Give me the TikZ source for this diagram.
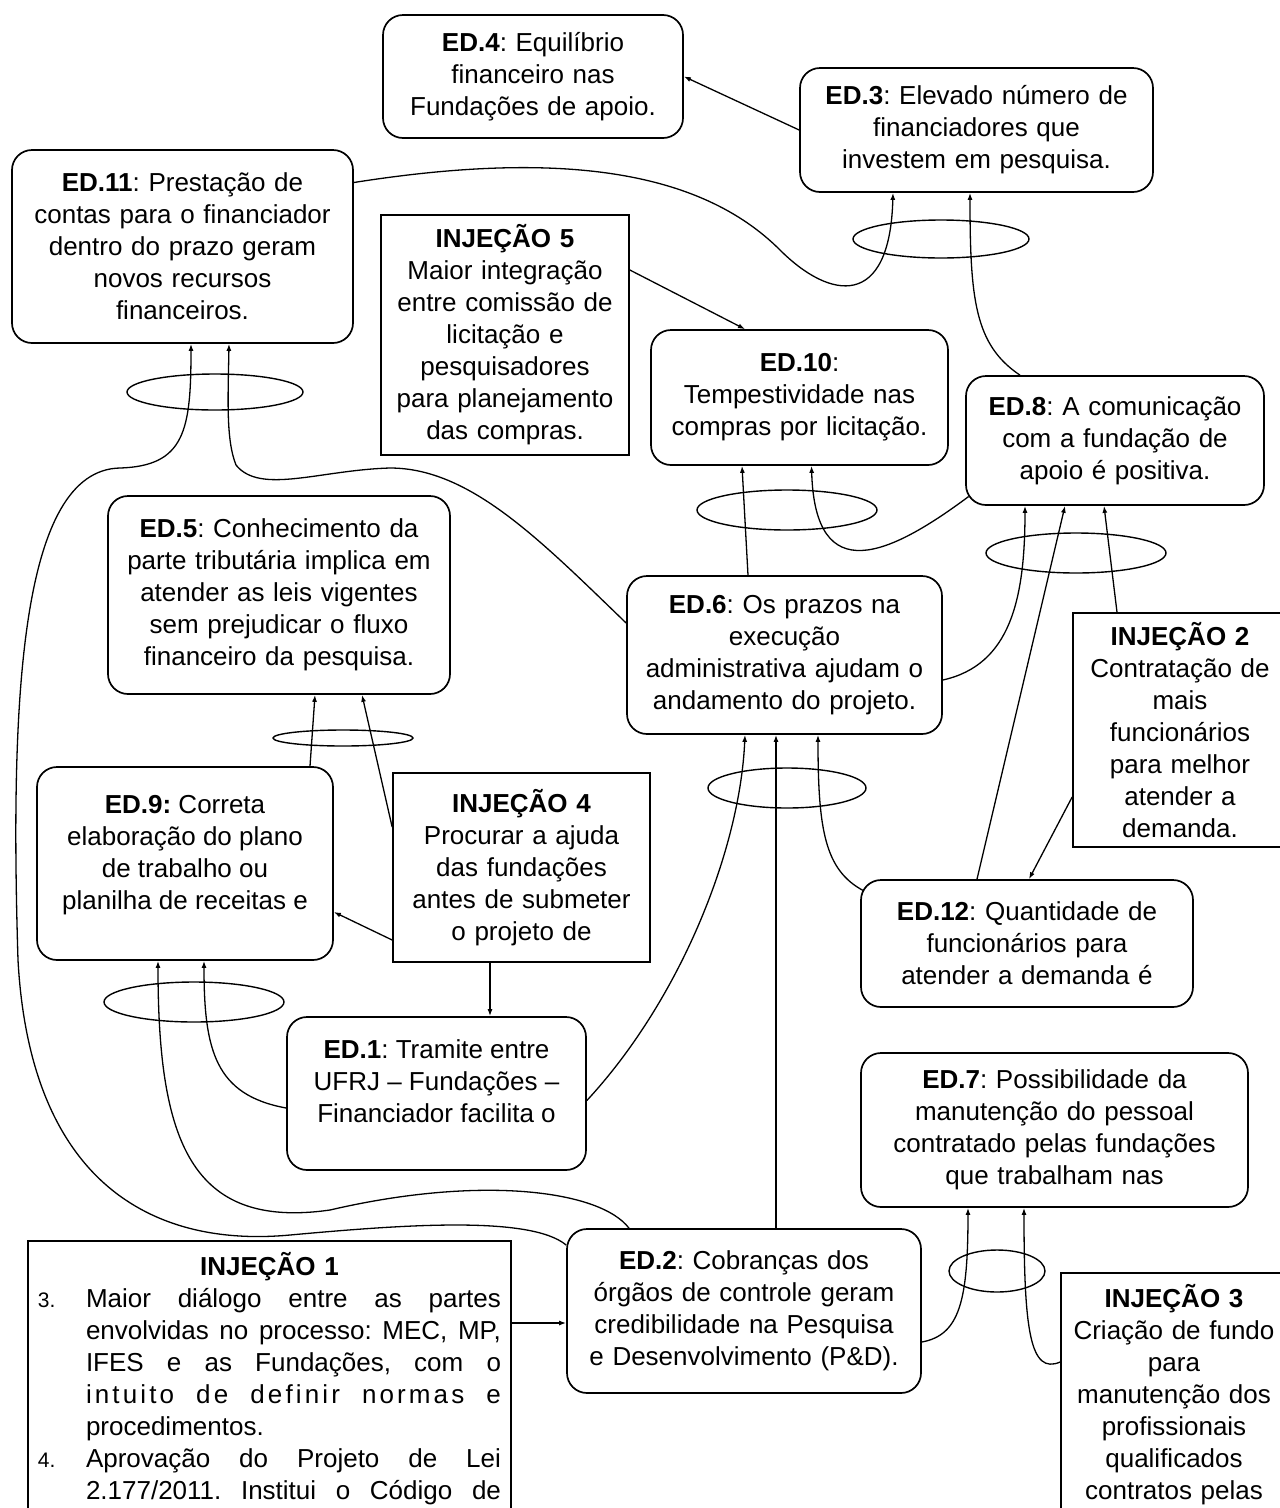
\documentclass[tikz,border=0pt]{standalone}
\usepackage{fontspec}
\setmainfont{Liberation Sans}
\usepackage{tikz}
\usetikzlibrary{arrows.meta,shapes.geometric}
\newcommand{\diagfont}{\fontsize{26}{32}\selectfont\frenchspacing}

\begin{document}
\begin{tikzpicture}[
    x=1pt,y=-1pt,
    edbox/.style={draw,rounded corners=20pt,line width=1.7pt,align=center,font=\diagfont,inner xsep=6pt,inner ysep=4pt},
    injbox/.style={draw,line width=1.7pt,align=center,font=\diagfont,inner xsep=6pt,inner ysep=4pt},
    andring/.style={draw,ellipse,line width=1.4pt,inner sep=0pt},
    link/.style={-{Latex[length=7pt,width=5pt]},line width=1.3pt}
  ]
    \useasboundingbox (0,0) rectangle (1280,1508);
    \clip (0,0) rectangle (1280,1508);

    % boxes
    \node[edbox,minimum width=300,minimum height=123,text width=288] (ed4) at (533,76.5) {\textbf{ED.4}: Equilíbrio\\financeiro nas\\Fundações de apoio.};
    \node[edbox,minimum width=353,minimum height=124,text width=341] (ed3) at (976.5,130) {\textbf{ED.3}: Elevado número de\\financiadores que\\investem em pesquisa.};
    \node[edbox,minimum width=341,minimum height=193,text width=329] (ed11) at (182.5,246.5) {\textbf{ED.11}: Prestação de\\contas para o financiador\\dentro do prazo geram\\novos recursos\\financeiros.};
    \node[injbox,minimum width=248,minimum height=240,text width=236] (inj5) at (505,335) {\textbf{INJEÇÃO 5}\\Maior integração\\entre comissão de\\licitação e\\pesquisadores\\para planejamento\\das compras.};
    \node[edbox,minimum width=297,minimum height=135,text width=285] (ed10) at (799.5,397.5) {\textbf{ED.10}:\\Tempestividade nas\\compras por licitação.};
    \node[edbox,minimum width=298,minimum height=129,text width=286] (ed8) at (1115,440.5) {\textbf{ED.8}: A comunicação\\com a fundação de\\apoio é positiva.};
    \node[edbox,minimum width=342,minimum height=198,text width=330] (ed5) at (279,595) {\textbf{ED.5}: Conhecimento da\\parte tributária implica em\\atender as leis vigentes\\sem prejudicar o fluxo\\financeiro da pesquisa.};
    \node[edbox,minimum width=315,minimum height=158,text width=303] (ed6) at (784.5,655) {\textbf{ED.6}: Os prazos na\\execução\\administrativa ajudam o\\andamento do projeto.};
    \node[injbox,minimum width=214,minimum height=234,text width=202] (inj2) at (1180,730) {\textbf{INJEÇÃO 2}\\Contratação de\\mais\\funcionários\\para melhor\\atender a\\demanda.};
    \node[edbox,minimum width=296,minimum height=193] (ed9) at (185,863.5) {\parbox[c][136pt][t]{284pt}{\centering\textbf{ED.9:} Correta\\elaboração do plano\\de trabalho ou\\planilha de receitas e}};
    \node[injbox,minimum width=257,minimum height=189,text width=245] (inj4) at (521.5,867.5) {\textbf{INJEÇÃO 4}\\Procurar a ajuda\\das fundações\\antes de submeter\\o projeto de};
    \node[edbox,minimum width=332,minimum height=127,text width=320] (ed12) at (1027,943.5) {\textbf{ED.12}: Quantidade de\\funcionários para\\atender a demanda é};
    \node[edbox,minimum width=299,minimum height=153] (ed1) at (436.5,1093.5) {\parbox[c][108pt][t]{287pt}{\centering\textbf{ED.1}: Tramite entre\\UFRJ – Fundações –\\Financiador facilita o}};
    \node[edbox,minimum width=387,minimum height=154,text width=375] (ed7) at (1054.5,1130) {\textbf{ED.7}: Possibilidade da\\manutenção do pessoal\\contratado pelas fundações\\que trabalham nas};
    \node[edbox,minimum width=354,minimum height=164,text width=342] (ed2) at (744,1311) {\textbf{ED.2}: Cobranças dos\\órgãos de controle geram\\credibilidade na Pesquisa\\e Desenvolvimento (P\&D).};
    \node[injbox,anchor=north,text width=465,inner xsep=9pt,inner ysep=11pt] (inj1) at (269.5,1240) {\textbf{INJEÇÃO 1}\\
      \makebox[48pt][l]{\fontsize{21}{32}\selectfont 3.}\makebox[415pt][s]{Maior\hfill diálogo\hfill entre\hfill as\hfill partes}\\
      \makebox[48pt]{}\makebox[415pt][s]{envolvidas\hfill no\hfill processo:\hfill MEC,\hfill MP,}\\
      \makebox[48pt]{}\makebox[415pt][s]{IFES\hfill e\hfill as\hfill Fundações,\hfill com\hfill o}\\
      \makebox[48pt]{}\makebox[415pt][s]{\addfontfeature{LetterSpace=12}intuito\hfill de\hfill definir\hfill normas\hfill e}\\
      \makebox[48pt]{}\makebox[415pt][l]{procedimentos.}\\
      \makebox[48pt][l]{\fontsize{21}{32}\selectfont 4.}\makebox[415pt][s]{Aprovação\hfill do\hfill Projeto\hfill de\hfill Lei}\\
      \makebox[48pt]{}\makebox[415pt][s]{2.177/2011.\hfill Institui\hfill o\hfill Código\hfill de}\par\vspace*{30pt}};
    \node[injbox,anchor=north,minimum width=226,text width=214,inner ysep=11pt] (inj3) at (1174,1272) {\textbf{INJEÇÃO 3}\\Criação de fundo\\para\\manutenção dos\\profissionais\\qualificados\\contratos pelas\par\vspace*{30pt}};

    % and-rings
    \node[andring,minimum width=176,minimum height=38] (and3) at (941,239) {};
    \node[andring,minimum width=176,minimum height=36] (and11) at (215,392) {};
    \node[andring,minimum width=180,minimum height=40] (and10) at (787,510) {};
    \node[andring,minimum width=180,minimum height=40] (and8) at (1076,553) {};
    \node[andring,minimum width=140,minimum height=16] (and5) at (343,738) {};
    \node[andring,minimum width=158,minimum height=40] (and6) at (787,788) {};
    \node[andring,minimum width=180,minimum height=40] (and9) at (194,1002) {};
    \node[andring,minimum width=96,minimum height=42] (and7) at (997,1271) {};

    % links
    \draw[link] (ed3.west) -- (ed4.east);
    \draw[link] ([yshift=64pt]ed11.east) .. controls (560,150) and (700,170) .. (780,250) .. controls (830,300) and (890,310) .. ([xshift=-83.5pt]ed3.south);
    \draw[link] ([xshift=-95pt]ed8.north) .. controls (975,345) and (970,300) .. ([xshift=-6.5pt]ed3.south);
    \draw[link] ([yshift=65pt]inj5.east) -- ([xshift=-54.5pt]ed10.north);
    \draw[link] ([xshift=-36.5pt]ed6.north) -- ([xshift=-57.5pt]ed10.south);
    \draw[link] ([xshift=3.5pt,yshift=-56pt]ed8.west) .. controls (890,555) and (815,590) .. ([xshift=12pt]ed10.south);
    \draw[link] ([yshift=-25pt]ed6.east) .. controls (1010,665) and (1025,600) .. ([xshift=-90pt]ed8.south);
    \draw[link] ([xshift=-50pt]ed12.north) -- ([xshift=-50pt]ed8.south);
    \draw[link] ([xshift=-63pt]inj2.north) -- ([xshift=-11pt]ed8.south);
    \draw[link] ([yshift=-67pt]inj2.west) -- ([xshift=2pt]ed12.north);
    \draw[link] ([xshift=3pt,yshift=53pt]ed12.west) .. controls (825,870) and (818,830) .. ([xshift=33.5pt]ed6.south);
    \draw[link] ([xshift=32pt]ed2.north) -- ([xshift=-8.5pt]ed6.south);
    \draw[link] ([yshift=-7pt]ed1.east) .. controls (680,1000) and (740,850) .. ([xshift=-39.5pt]ed6.south);
    \draw[link] ([xshift=-31.5pt]inj4.south) -- ([xshift=53.5pt]ed1.north);
    \draw[link] ([yshift=-72.5pt]inj4.west) -- ([yshift=-48.5pt]ed9.east);
    \draw[link] ([yshift=40.5pt]inj4.west) -- ([xshift=83pt]ed5.south);
    \draw[link] ([xshift=125pt]ed9.north) -- ([xshift=36pt]ed5.south);
    \draw[link] ([yshift=-14.5pt]ed1.west) .. controls (215,1095) and (204,1050) .. ([xshift=19pt]ed9.south);
    \draw[link] ([xshift=-115pt]ed2.north) .. controls (600,1190) and (480,1175) .. (330,1210) .. controls (190,1230) and (158,1140) .. ([xshift=-27pt]ed9.south);
    \draw[link] ([yshift=66pt]ed2.west) .. controls (530,1215) and (400,1225) .. (290,1235) .. controls (150,1248) and (30,1180) .. (18,960) .. controls (10,700) and (20,470) .. (120,468) .. controls (185,466) and (191,430) .. ([xshift=8.5pt]ed11.south);
    \draw[link] ([yshift=32pt]ed6.west) .. controls (540,540) and (470,468) .. (390,468) .. controls (320,470) and (260,495) .. (236,465) .. controls (226,440) and (228,400) .. ([xshift=46.5pt]ed11.south);
    \draw[link] ([yshift=-31pt]ed2.east) .. controls (960,1335) and (968,1300) .. ([xshift=-86.5pt]ed7.south);
    \draw[link] ([yshift=-90pt]inj3.north west) .. controls (1030,1375) and (1024,1330) .. ([xshift=-30.5pt]ed7.south);
    \draw[link] ([yshift=-83pt]inj1.north east) -- ([yshift=-12pt]ed2.west);
  \end{tikzpicture}
\end{document}
